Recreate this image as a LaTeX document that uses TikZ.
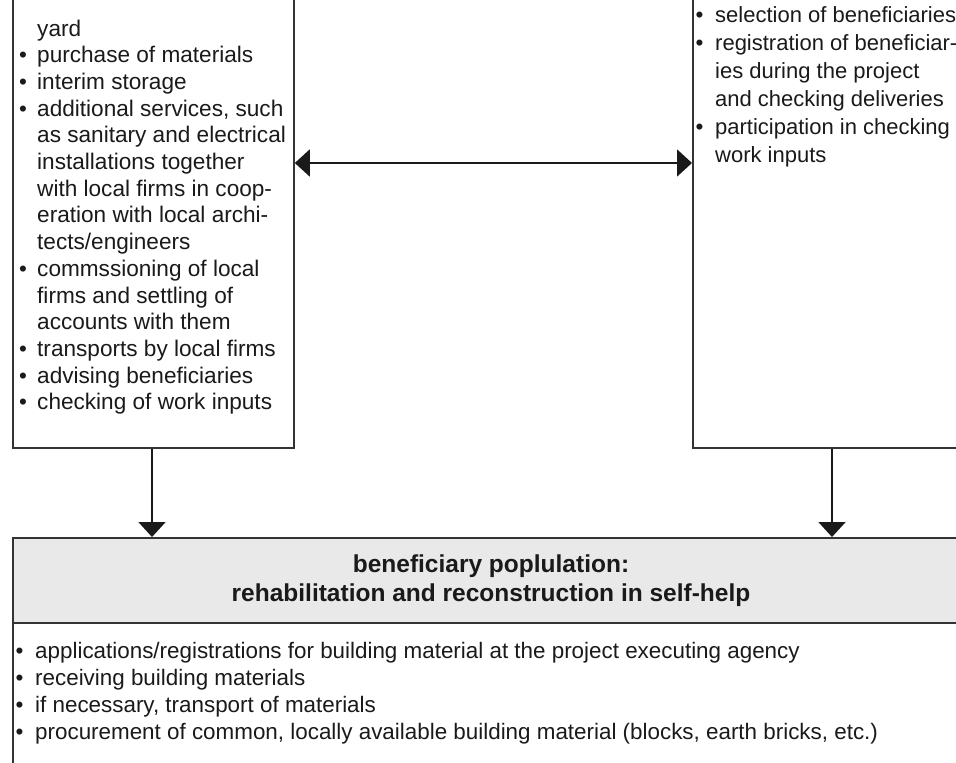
\documentclass[tikz,border=0pt]{standalone}
\usepackage{fontspec}
\setmainfont{Liberation Sans}
\usetikzlibrary{arrows.meta}
\definecolor{ink}{HTML}{1A1A1A}
\definecolor{frame}{HTML}{333333}
\definecolor{hdrgray}{HTML}{E9E9E9}
\begin{document}
\begin{tikzpicture}[x=1pt,y=-1pt,
  boxframe/.style={draw=frame, line width=1.8pt, fill=white, inner sep=0pt},
  ltxt/.style={anchor=base west, inner sep=0pt, text=ink, font=\fontsize{22.6}{26}\selectfont},
  rtxt/.style={anchor=base west, inner sep=0pt, text=ink, font=\fontsize{22}{26}\selectfont},
  btxt/.style={anchor=base west, inner sep=0pt, text=ink, font=\fontsize{22.4}{26}\selectfont},
  bul/.style={anchor=base, inner sep=0pt, text=ink, font=\fontsize{22.4}{26}\selectfont},
  htxt/.style={anchor=base, inner sep=0pt, text=ink, font=\bfseries\fontsize{24.5}{27}\selectfont},
  conn/.style={draw=ink, line width=1.8pt},
  tip/.style={-{Triangle[length=15pt,width=27pt]}},
  dtip/.style={{Triangle[length=15pt,width=27pt]}-{Triangle[length=15pt,width=27pt]}}
]
\useasboundingbox (0,0) rectangle (956,763);
\clip (0,0) rectangle (956,763);

% boxes
\node[boxframe, anchor=south west, minimum width=281pt, minimum height=470pt] (lbox) at (12,449) {};
\node[boxframe, anchor=south west, minimum width=290pt, minimum height=470pt] (rbox) at (692,449) {};
\node[boxframe, anchor=north west, minimum width=960pt, minimum height=260pt] (bbox) at (12,537) {};
\node[boxframe, fill=hdrgray, anchor=north west, minimum width=960pt, minimum height=85pt] (hdr) at (bbox.north west) {};

% connectors
\coordinate (ay) at (0,163);
\coordinate (la) at (152,0);
\coordinate (ra) at (832,0);
\draw[conn, dtip] (lbox.east |- ay) -- (rbox.west |- ay);
\draw[conn, tip] (lbox.south -| la) -- (hdr.north -| la);
\draw[conn, tip] (rbox.south -| ra) -- (hdr.north -| ra);

% left box text
\node[ltxt] (l0) at (37,36) {yard};
\node[bul] (lb1) at (23,62.7) {•};
\node[ltxt] (l1) at (37,62.7) {purchase of materials};
\node[bul] (lb2) at (23,89.4) {•};
\node[ltxt] (l2) at (37,89.4) {interim storage};
\node[bul] (lb3) at (23,116.1) {•};
\node[ltxt] (l3) at (37,116.1) {additional services, such};
\node[ltxt] (l4) at (37,142.8) {as sanitary and electrical};
\node[ltxt] (l5) at (37,169.5) {installations together};
\node[ltxt] (l6) at (37,196.2) {with local firms in coop-};
\node[ltxt] (l7) at (37,222.9) {eration with local archi-};
\node[ltxt] (l8) at (37,249.6) {tects/engineers};
\node[bul] (lb9) at (23,276.3) {•};
\node[ltxt] (l9) at (37,276.3) {commssioning of local};
\node[ltxt] (l10) at (37,303) {firms and settling of};
\node[ltxt] (l11) at (37,329.7) {accounts with them};
\node[bul] (lb12) at (23,356.4) {•};
\node[ltxt] (l12) at (37,356.4) {transports by local firms};
\node[bul] (lb13) at (23,383.1) {•};
\node[ltxt] (l13) at (37,383.1) {advising beneficiaries};
\node[bul] (lb14) at (23,409.8) {•};
\node[ltxt] (l14) at (37,409.8) {checking of work inputs};

% right box text
\node[bul] (rb0) at (699.5,22) {•};
\node[rtxt] (r0) at (715,22) {selection of beneficiaries};
\node[bul] (rb1) at (699.5,50) {•};
\node[rtxt] (r1) at (715,50) {registration of beneficiar-};
\node[rtxt] (r2) at (715,78) {ies during the project};
\node[rtxt] (r3) at (715,106) {and checking deliveries};
\node[bul] (rb4) at (699.5,134) {•};
\node[rtxt] (r4) at (715,134) {participation in checking};
\node[rtxt] (r5) at (715,162) {work inputs};

% header text
\node[htxt] (h1) at (491,572) {beneficiary poplulation:};
\node[htxt] (h2) at (491,601) {rehabilitation and reconstruction in self-help};

% bottom list
\node[bul] (bb0) at (19.5,658) {•};
\node[btxt] (b0) at (35,658) {applications/registrations for building material at the project executing agency};
\node[bul] (bb1) at (19.5,685) {•};
\node[btxt] (b1) at (35,685) {receiving building materials};
\node[bul] (bb2) at (19.5,712) {•};
\node[btxt] (b2) at (35,712) {if necessary, transport of materials};
\node[bul] (bb3) at (19.5,739) {•};
\node[btxt] (b3) at (35,739) {procurement of common, locally available building material (blocks, earth bricks, etc.)};
\end{tikzpicture}
\end{document}
